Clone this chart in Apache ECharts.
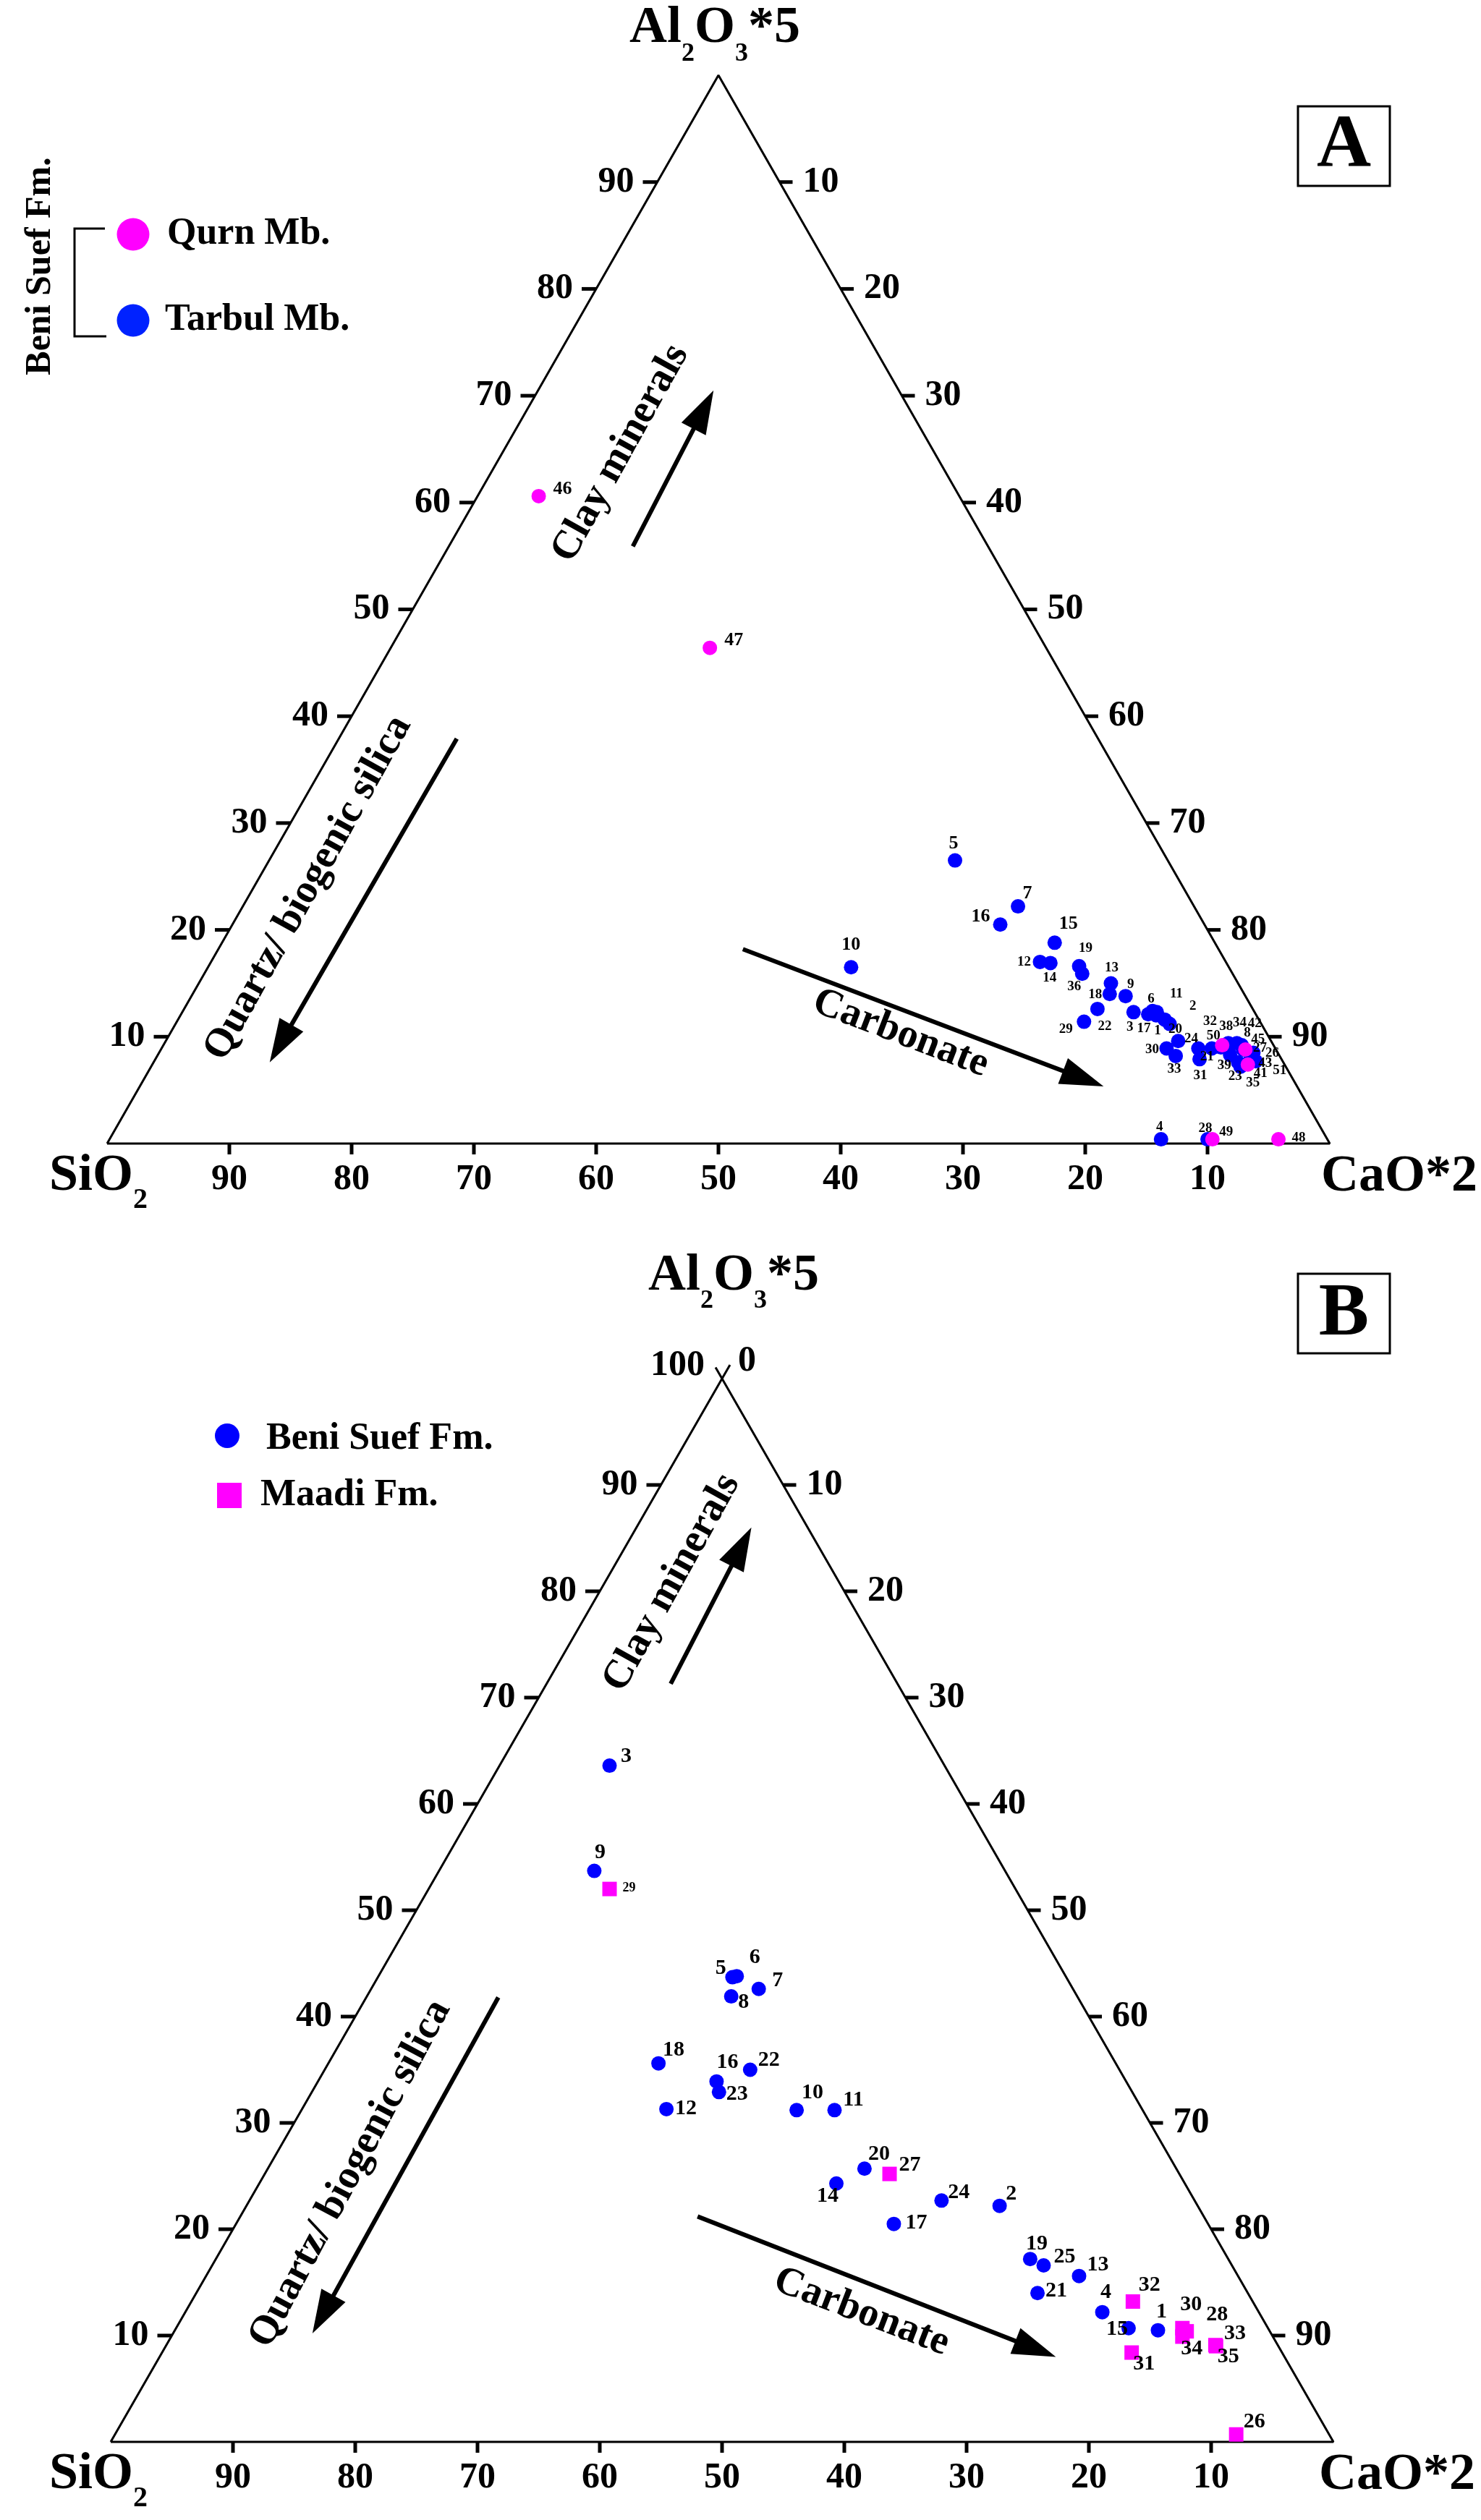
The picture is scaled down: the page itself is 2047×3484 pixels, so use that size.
<!DOCTYPE html>
<html>
<head>
<meta charset="utf-8">
<script src="https://cdn.jsdelivr.net/npm/echarts@6/dist/echarts.min.js"></script>
<style>
html,body{margin:0;padding:0;background:#fff;}
#chart{width:2047px;height:3484px;}
</style>
</head>
<body>
<div id="chart"></div>
<script>
// ternary values: [sample, SiO2, Al2O3*5, CaO*2]  (normalised %)
var tarbulA = [
  ['5',17.4,26.5,56.1], ['7',14.4,22.2,63.4], ['16',16.7,20.5,62.8], ['15',13.1,18.8,68.1],
  ['12',15.2,17.0,67.8], ['14',14.4,16.9,68.7], ['19',12.2,16.6,71.2], ['36',12.3,15.9,71.8],
  ['13',10.4,15.0,74.6], ['18',11.0,14.0,75.0], ['9',9.8,13.8,76.4], ['22',12.7,12.6,74.7],
  ['29',14.4,11.4,74.2], ['3',9.9,12.3,77.8], ['6',8.3,12.4,79.3], ['17',8.8,12.1,79.1],
  ['1',8.2,12.0,79.8], ['11',8.0,12.3,79.7], ['2',7.7,11.6,80.7], ['20',7.5,11.2,81.3],
  ['24',7.6,9.6,82.8], ['30',8.9,8.9,82.2], ['33',8.5,8.2,83.3], ['21',6.3,8.9,84.8],
  ['31',6.7,7.9,85.4], ['40',5.2,8.9,85.9], ['32',4.4,9.0,86.6], ['38',3.6,9.4,87.0],
  ['34',2.9,9.4,87.7], ['42',2.6,9.2,88.2], ['8',2.7,8.8,88.5], ['45',2.2,8.4,89.4],
  ['39',4.0,8.3,87.7], ['23',3.7,7.6,88.7], ['35',3.7,7.2,89.1], ['41',2.6,7.8,89.6],
  ['26',2.0,8.5,89.5], ['51',2.2,7.7,90.1], ['10',30.9,16.5,52.6], ['4',13.6,0.4,86.0],
  ['28',9.8,0.4,89.8]
];
var qurnA = [
  ['46',34.4,60.6,5.0], ['47',27.5,46.4,26.1], ['50',4.2,9.2,86.6], ['27',2.5,8.8,88.7],
  ['43',3.0,7.4,89.6], ['49',9.4,0.4,90.2], ['48',4.0,0.4,95.6]
];
var beniSuefB = [
  ['3',27.4,63.6,9.0], ['9',33.6,53.7,12.7], ['5',27.3,43.7,29.0], ['6',26.9,43.8,29.3],
  ['7',25.7,42.6,31.7], ['8',28.3,41.9,29.8], ['18',37.4,35.6,27.0], ['16',33.5,33.9,32.6],
  ['23',33.8,32.9,33.3], ['22',30.2,35.0,34.8], ['12',38.9,31.3,29.8], ['10',28.3,31.2,40.5],
  ['11',25.2,31.2,43.6], ['20',25.5,25.7,48.8], ['14',28.5,24.3,47.2], ['24',20.7,22.7,56.6],
  ['17',25.7,20.5,53.8], ['2',16.2,22.2,61.6], ['19',16.2,17.2,66.6], ['25',15.4,16.6,68.0],
  ['13',13.0,15.6,71.4], ['21',17.2,14.0,68.8], ['4',12.8,12.2,75.0], ['15',11.4,10.7,77.9],
  ['1',9.1,10.5,80.4]
];
var maadiB = [
  ['29',33.2,52.0,14.8], ['27',23.7,25.2,51.1], ['32',9.8,13.2,77.0], ['31',12.3,8.4,79.3],
  ['30',7.0,10.7,82.3], ['28',6.8,10.4,82.8], ['34',7.4,9.9,82.7], ['33',5.1,9.1,85.8],
  ['35',5.1,9.0,85.9], ['26',7.6,0.7,91.7]
];
var tickVals = [10,20,30,40,50,60,70,80,90];

// label placement (px offset from the marker)
var labOffA = {'5':[-2,-23],'7':[13,-18],'16':[-27,-11],'15':[19,-26],'12':[-22,0],'14':[-1,21],
  '19':[9,-25],'36':[-11,18],'13':[1,-21],'18':[-20,1],'9':[7,-16],'22':[10,24],'29':[-25,10],
  '3':[-5,21],'17':[-6,20],'1':[2,21],'6':[-2,-17],'11':[27,-25],'2':[39,-19],'20':[8,8],
  '24':[18,-3],'30':[-20,2],'33':[-2,18],'21':[12,12],'31':[1,23],'32':[-15,-36],'38':[-3,-23],
  '34':[4,-28],'42':[18,-30],'8':[6,-23],'45':[9,-20],'27':[20,-2],'26':[26,1],'43':[24,-2],
  '51':[33,13],'41':[14,18],'35':[17,22],'23':[-4,19],'39':[-8,15],'50':[-12,-13],'28':[-3,-15],
  '49':[19,-10],'48':[28,-2],'4':[-2,-17],'46':[33,-10],'47':[33,-10],'10':[0,-31]};
var bigLabA = ['5','7','16','15','46','47','10'];
var labOffB = {'3':[23,-13],'9':[8,-25],'29':[27,-1],'5':[-16,-12],'6':[25,-26],'7':[26,-12],
  '8':[17,8],'18':[21,-18],'16':[15,-26],'23':[25,3],'22':[26,-13],'12':[27,-1],'10':[22,-24],
  '11':[26,-14],'20':[20,-20],'27':[28,-12],'14':[-12,17],'24':[24,-11],'17':[31,-1],'2':[16,-16],
  '19':[9,-21],'25':[29,-12],'13':[26,-15],'21':[26,-3],'4':[5,-27],'32':[23,-23],'15':[-16,2],
  '1':[5,-25],'31':[17,16],'30':[12,-32],'28':[42,-23],'34':[13,17],'33':[27,-16],'35':[17,15],
  '26':[25,-17]};

// arrows + rotated notes, in plot space [CaO + Al/2, Al]
var notesA = [
  {text:'Clay minerals', at:[42.0,64.6], rot:61, from:[43.0,55.9], to:[49.6,70.5]},
  {text:'Quartz/ biogenic silica', at:[16.45,23.9], rot:61, from:[28.6,37.9], to:[13.3,7.6]},
  {text:'Carbonate', at:[64.9,10.3], rot:-21, from:[52.0,18.2], to:[81.5,5.35]}
];
var notesB = [
  {text:'Clay minerals', at:[45.9,80.8], rot:61, from:[45.8,71.3], to:[52.4,86.0]},
  {text:'Quartz/ biogenic silica', at:[19.6,25.2], rot:62, from:[31.7,41.8], to:[16.5,10.2]},
  {text:'Carbonate', at:[61.4,12.2], rot:-21, from:[48.0,21.2], to:[77.3,8.0]}
];

var FONT = '"Liberation Serif", "Times New Roman", serif';
var gridA = {left:148, top:104, width:1690, height:1477};
var gridB = {left:153, top:1906, width:1690, height:1470};

function toXY(si, al, ca) {
  var s = si + al + ca;
  al = al / s * 100; ca = ca / s * 100;
  return [ca + al / 2, al];
}

var mctx = document.createElement('canvas').getContext('2d');
function textW(t, font) { mctx.font = font; return mctx.measureText(t).width; }

function txtStyle(text, size, align, vAlign) {
  var f = 'bold ' + size + 'px ' + FONT;
  return {text:text, font:f, textFont:f, fill:'#000', textFill:'#000',
    align:align, textAlign:align, verticalAlign:vAlign, textVerticalAlign:vAlign};
}

function pts(list, offs, sizeFn, hide) {
  return list.map(function (r) {
    var o = offs[r[0]] || [0, -20];
    return {name:r[0], value:toXY(r[1], r[2], r[3]),
      label:{offset:o, fontSize:sizeFn(r[0]), show:!(hide && hide.indexOf(r[0]) >= 0)}};
  });
}

function scatter(name, idx, symbol, color, data) {
  return {type:'scatter', name:name, xAxisIndex:idx, yAxisIndex:idx, symbol:symbol, symbolSize:20,
    itemStyle:{color:color, opacity:1}, silent:true, z:3,
    label:{show:true, position:'inside', formatter:'{b}', color:'#000', fontFamily:FONT,
      fontWeight:'bold', textBorderWidth:0},
    emphasis:{disabled:true}, data:data};
}

function frame(idx) {
  return {type:'line', xAxisIndex:idx, yAxisIndex:idx, data:[[0,0],[100,0],[50,100],[0,0]],
    symbol:'none', clip:false, silent:true, lineStyle:{color:'#000', width:3}, z:1};
}

function ticks(idx) {
  return {type:'custom', xAxisIndex:idx, yAxisIndex:idx, silent:true, z:2,
    data:tickVals.map(function (v) { return [v, 0]; }),
    renderItem:function (params, api) {
      var v = api.value(0);
      var L = api.coord([v / 2, v]);
      var R = api.coord([50 + v / 2, 100 - v]);
      var B = api.coord([100 - v, 0]);
      var tk = {stroke:'#000', lineWidth:5};
      return {type:'group', children:[
        {type:'line', shape:{x1:L[0] - 20, y1:L[1], x2:L[0], y2:L[1]}, style:tk},
        {type:'line', shape:{x1:R[0], y1:R[1], x2:R[0] + 18, y2:R[1]}, style:tk},
        {type:'line', shape:{x1:B[0], y1:B[1], x2:B[0], y2:B[1] + 15}, style:tk},
        {type:'text', x:L[0] - 32, y:L[1], style:txtStyle(String(v), 50, 'right', 'middle')},
        {type:'text', x:R[0] + 32, y:R[1], style:txtStyle(String(v), 50, 'left', 'middle')},
        {type:'text', x:B[0], y:B[1] + 50, style:txtStyle(String(v), 50, 'center', 'middle')}
      ]};
    }};
}

function apexMarks(idx) {
  return {type:'custom', xAxisIndex:idx, yAxisIndex:idx, silent:true, z:2, data:[[50,100]],
    renderItem:function (params, api) {
      var A = api.coord([50, 100]), Lc = api.coord([0, 0]), Rc = api.coord([100, 0]);
      function ext(c, len) {
        var dx = A[0] - c[0], dy = A[1] - c[1], d = Math.sqrt(dx * dx + dy * dy);
        return [A[0] + dx / d * len, A[1] + dy / d * len];
      }
      var e1 = ext(Lc, 22), e2 = ext(Rc, 18);
      var st = {stroke:'#000', lineWidth:3};
      return {type:'group', children:[
        {type:'line', shape:{x1:A[0], y1:A[1], x2:e1[0], y2:e1[1]}, style:st},
        {type:'line', shape:{x1:A[0], y1:A[1], x2:e2[0], y2:e2[1]}, style:st},
        {type:'text', x:A[0] - 24, y:A[1] - 18, style:txtStyle('100', 50, 'right', 'middle')},
        {type:'text', x:A[0] + 22, y:A[1] - 24, style:txtStyle('0', 50, 'left', 'middle')}
      ]};
    }};
}

function arrows(idx, notes) {
  return {type:'custom', xAxisIndex:idx, yAxisIndex:idx, silent:true, z:2,
    data:notes.map(function (n, i) { return [i, 0]; }),
    renderItem:function (params, api) {
      var n = notes[params.dataIndex];
      var p1 = api.coord(n.from), p2 = api.coord(n.to), c = api.coord(n.at);
      var dx = p2[0] - p1[0], dy = p2[1] - p1[1], d = Math.sqrt(dx * dx + dy * dy);
      var ux = dx / d, uy = dy / d, hl = 60, hw = 19;
      var bx = p2[0] - ux * hl, by = p2[1] - uy * hl;
      return {type:'group', children:[
        {type:'line', shape:{x1:p1[0], y1:p1[1], x2:bx + ux * 5, y2:by + uy * 5},
          style:{stroke:'#000', lineWidth:6}},
        {type:'polygon', shape:{points:[[p2[0], p2[1]], [bx - uy * hw, by + ux * hw], [bx + uy * hw, by - ux * hw]]},
          style:{fill:'#000'}},
        {type:'text', x:c[0], y:c[1], rotation:n.rot * Math.PI / 180,
          style:txtStyle(n.text, 56, 'center', 'middle')}
      ]};
    }};
}

// chemical formula with subscripts, laid out from a left edge and a cap-centre line
function chem(parts, left, capY, size, subSize, drop) {
  var x = left, out = [];
  parts.forEach(function (p) {
    var sub = p[1] === 1, fs = sub ? subSize : size;
    out.push({type:'text', x:x, y:sub ? capY + drop : capY, silent:true,
      style:txtStyle(p[0], fs, 'left', 'middle')});
    x += textW(p[0], 'bold ' + fs + 'px ' + FONT);
  });
  return out;
}
var alParts = [['Al',0],['2',1],['O',0],['3',1],['*5',0]];
var siParts = [['SiO',0],['2',1]];

var graphic = [].concat(
  chem(alParts, 870, 39, 72, 36, 36),
  chem(alParts, 896, 1764, 72, 36, 35),
  chem(siParts, 68, 1626, 72, 40, 34),
  chem(siParts, 68, 3421, 72, 40, 34),
  chem([['CaO*2',0]], 1826, 1627, 72, 40, 34),
  chem([['CaO*2',0]], 1823, 3422, 72, 40, 34),
  [
    {type:'rect', shape:{x:1794, y:147, width:127, height:110}, style:{fill:'none', stroke:'#000', lineWidth:3}},
    {type:'text', x:1857.5, y:203, style:txtStyle('A', 104, 'center', 'middle')},
    {type:'rect', shape:{x:1794, y:1761, width:127, height:110}, style:{fill:'none', stroke:'#000', lineWidth:3}},
    {type:'text', x:1857.5, y:1818, style:txtStyle('B', 104, 'center', 'middle')},
    // legend A
    {type:'text', x:56, y:368, rotation:Math.PI / 2, style:txtStyle('Beni Suef Fm.', 50, 'center', 'middle')},
    {type:'polyline', shape:{points:[[145,316],[103,316],[103,465],[147,465]]}, style:{fill:'none', stroke:'#000', lineWidth:3}},
    {type:'circle', shape:{cx:184, cy:324, r:22.5}, style:{fill:'#ff00ff'}},
    {type:'circle', shape:{cx:184, cy:443, r:22.5}, style:{fill:'#0022ff'}},
    {type:'text', x:231, y:324, style:txtStyle('Qurn Mb.', 52, 'left', 'middle')},
    {type:'text', x:228, y:443, style:txtStyle('Tarbul Mb.', 52, 'left', 'middle')},
    // legend B
    {type:'circle', shape:{cx:314, cy:1985, r:17}, style:{fill:'#0000ff'}},
    {type:'rect', shape:{x:300, y:2050, width:34, height:35}, style:{fill:'#ff00ff'}},
    {type:'text', x:368, y:1990, style:txtStyle('Beni Suef Fm.', 52, 'left', 'middle')},
    {type:'text', x:360, y:2068, style:txtStyle('Maadi Fm.', 52, 'left', 'middle')}
  ]
);

var chart = echarts.init(document.getElementById('chart'), null, {renderer:'canvas'});
chart.setOption({
  animation:false,
  backgroundColor:'#fff',
  grid:[gridA, gridB],
  xAxis:[{gridIndex:0, type:'value', min:0, max:100, show:false},
         {gridIndex:1, type:'value', min:0, max:100, show:false}],
  yAxis:[{gridIndex:0, type:'value', min:0, max:100, show:false},
         {gridIndex:1, type:'value', min:0, max:100, show:false}],
  graphic:graphic,
  series:[
    frame(0), frame(1),
    ticks(0), ticks(1), apexMarks(1),
    arrows(0, notesA), arrows(1, notesB),
    scatter('Tarbul Mb.', 0, 'circle', '#0000ff',
      pts(tarbulA, labOffA, function (n) { return bigLabA.indexOf(n) >= 0 ? 26 : 19; }, ['40'])),
    scatter('Qurn Mb.', 0, 'circle', '#ff00ff',
      pts(qurnA, labOffA, function (n) { return bigLabA.indexOf(n) >= 0 ? 26 : 19; })),
    scatter('Beni Suef Fm.', 1, 'circle', '#0000ff',
      pts(beniSuefB, labOffB, function () { return 30; })),
    scatter('Maadi Fm.', 1, 'rect', '#ff00ff',
      pts(maadiB, labOffB, function (n) { return n === '29' ? 18 : 30; }))
  ]
});
</script>
</body>
</html>
